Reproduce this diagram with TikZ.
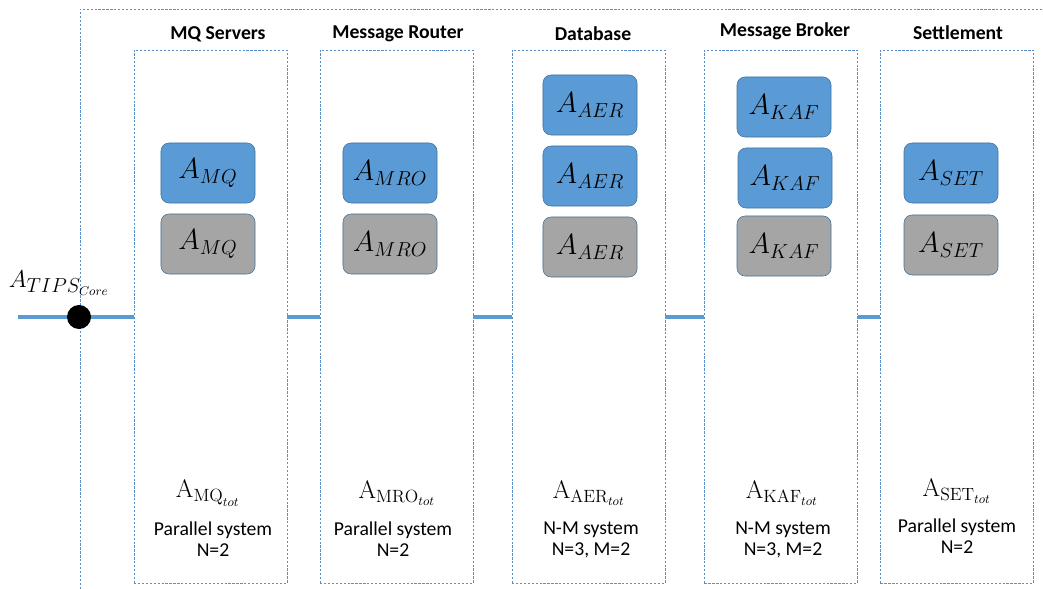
\documentclass[tikz,border=0pt]{standalone}
\usepackage{fontspec}
\usepackage{amsmath}
\newfontfamily\calibri{Carlito}
\definecolor{boxblue}{HTML}{5B9BD5}
\definecolor{boxgray}{HTML}{A5A5A5}
\definecolor{edgeblue}{HTML}{41719C}
\definecolor{frameblue}{HTML}{5B8FC9}

\begin{document}
\begin{tikzpicture}[x=0.025cm,y=-0.025cm,
col/.style={draw=frameblue, line width=0.5pt, dash pattern=on 1.6pt off 1.2pt, minimum width=3.825cm, minimum height=13.325cm, inner sep=0pt},
up/.style={rounded corners=0.2cm, draw=edgeblue, line width=0.4pt, fill=boxblue, minimum width=2.35cm, minimum height=1.5cm, font=\fontsize{21}{25}\selectfont},
down/.style={up, fill=boxgray},
title/.style={font=\calibri\bfseries\fontsize{14}{17}\selectfont},
tot/.style={font=\fontsize{18}{21}\selectfont},
sys/.style={align=center, font=\calibri\fontsize{14}{15}\selectfont},
bus/.style={boxblue, line width=2.2pt}]
\useasboundingbox (0,0) rectangle (1043,589);

\draw[col] (80,589) -- (80,9) -- (1043,9);

\node[col] (mq) at (210.5,316.5) {};
\node[col] (mro) at (396.5,316.5) {};
\node[col] (aer) at (588.5,316.5) {};
\node[col] (kaf) at (781,316.5) {};
\node[col] (set) at (957,316.5) {};

\node[title] (tmq) at (218,34) {MQ Servers};
\node[title] (tmro) at (398,34) {Message Router};
\node[title] (taer) at (593,34) {Database};
\node[title] (tkaf) at (785,31) {Message Broker};
\node[title] (tset) at (958,33) {Settlement};

\node[up] (mq1) at (208,173) {$A_{MQ}$};
\node[down] (mq2) at (208,244) {$A_{MQ}$};
\node[up] (mro1) at (390,173) {$A_{MRO}$};
\node[down] (mro2) at (390,244) {$A_{MRO}$};
\node[up] (aer1) at (590,105) {$A_{AER}$};
\node[up] (aer2) at (590,176) {$A_{AER}$};
\node[down] (aer3) at (590,247) {$A_{AER}$};
\node[up] (kaf1) at (784,107) {$A_{KAF}$};
\node[up] (kaf2) at (785,178) {$A_{KAF}$};
\node[down] (kaf3) at (784,246) {$A_{KAF}$};
\node[up] (set1) at (951,173) {$A_{SET}$};
\node[down] (set2) at (951,245) {$A_{SET}$};

\coordinate (start) at (18,317);
\draw[bus] (start) -- (start -| mq.west);
\draw[bus] (start -| mq.east) -- (start -| mro.west);
\draw[bus] (start -| mro.east) -- (start -| aer.west);
\draw[bus] (start -| aer.east) -- (start -| kaf.west);
\draw[bus] (start -| kaf.east) -- (start -| set.west);

\node[inner sep=0pt, circle, fill=black, minimum size=0.6cm] (core) at (79,317) {};
\node[font=\fontsize{19}{22}\selectfont] (tips) at (59,283) {$A_{TIPS_{Core}}$};

\node[tot] (mqtot) at (208,493) {$\mathrm{A}_{\mathrm{MQ}_{tot}}$};
\node[tot] (mrotot) at (397,493) {$\mathrm{A}_{\mathrm{MRO}_{tot}}$};
\node[tot] (aertot) at (589,493) {$\mathrm{A}_{\mathrm{AER}_{tot}}$};
\node[tot] (kaftot) at (782,493) {$\mathrm{A}_{\mathrm{KAF}_{tot}}$};
\node[tot] (settot) at (957,491) {$\mathrm{A}_{\mathrm{SET}_{tot}}$};

\node[sys] (mqsys) at (213,539) {Parallel system\\N=2};
\node[sys] (mrosys) at (393,539) {Parallel system\\N=2};
\node[sys] (aersys) at (591,540) {N-M system\\N=3, M=2};
\node[sys] (kafsys) at (783,540) {N-M system\\N=3, M=2};
\node[sys] (setsys) at (957,536) {Parallel system\\N=2};
\end{tikzpicture}
\end{document}
